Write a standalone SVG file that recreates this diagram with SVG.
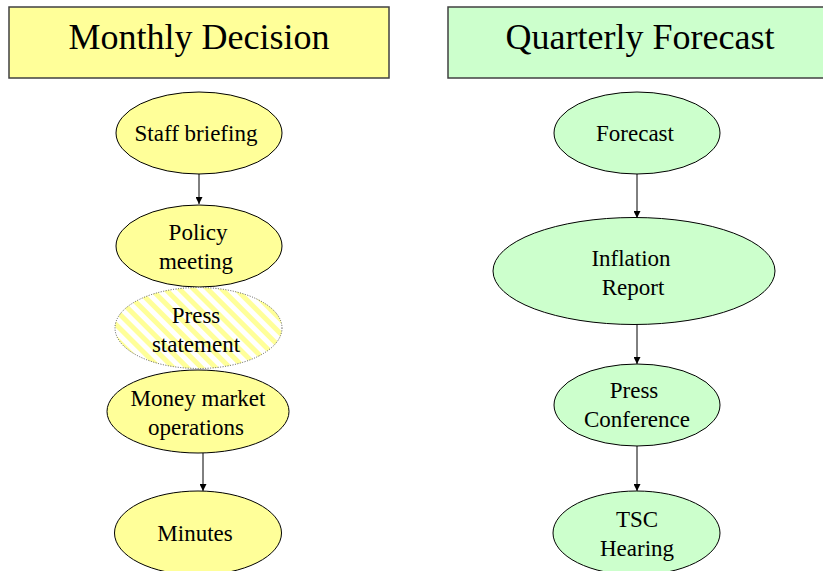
<svg xmlns="http://www.w3.org/2000/svg" width="823" height="571" viewBox="0 0 823 571">
  <defs>
    <style>
      .title { font-family: "Liberation Serif", "Times New Roman", serif; font-size: 36px; fill: #000; text-anchor: middle; }
      .lbl { font-family: "Liberation Serif", "Times New Roman", serif; font-size: 23px; fill: #000; text-anchor: middle; }
      .hdr { stroke: #404040; stroke-width: 1.5; }
      .y { fill: #FFFF99; stroke: #000; stroke-width: 1; }
      .g { fill: #CCFFCC; stroke: #000; stroke-width: 1; }
      .hatch { fill: url(#stripes); stroke: #555; stroke-width: 1; stroke-dasharray: 1 1.5; }
      .edge { stroke: #000; stroke-width: 1; fill: none; marker-end: url(#arrow); }
    </style>
    <!-- wide downward-diagonal stripes -->
    <pattern id="stripes" width="10" height="10" patternUnits="userSpaceOnUse" patternTransform="rotate(-45)">
      <rect width="10" height="10" fill="#FFFFFF"/>
      <rect width="5" height="10" fill="#FFFF99"/>
    </pattern>
    <marker id="arrow" viewBox="0 0 10 10" refX="10" refY="5" markerWidth="7" markerHeight="7" markerUnits="userSpaceOnUse" orient="auto">
      <path d="M0,0 L10,5 L0,10 z" fill="#000"/>
    </marker>
  </defs>

  <!-- column headers -->
  <g id="monthly-decision">
    <rect class="hdr" x="9" y="7" width="380" height="71" fill="#FFFF99"/>
    <text class="title" x="199" y="49">Monthly Decision</text>
  </g>
  <g id="quarterly-forecast">
    <rect class="hdr" x="448" y="7" width="384" height="71" fill="#CCFFCC"/>
    <text class="title" x="640" y="49">Quarterly Forecast</text>
  </g>

  <!-- connectors -->
  <g id="connectors">
    <line class="edge" x1="199" y1="174" x2="199" y2="204"/>
    <line class="edge" x1="203" y1="453" x2="203" y2="491"/>
    <line class="edge" x1="637" y1="174" x2="637" y2="218"/>
    <line class="edge" x1="637" y1="324" x2="637" y2="364"/>
    <line class="edge" x1="637" y1="446" x2="637" y2="491"/>
  </g>

  <!-- monthly column -->
  <g id="staff-briefing">
    <ellipse class="y" cx="199" cy="133" rx="83" ry="41"/>
    <text class="lbl" x="196" y="141">Staff briefing</text>
  </g>
  <g id="policy-meeting">
    <ellipse class="y" cx="199" cy="246" rx="83" ry="41"/>
    <text class="lbl" x="198" y="240">Policy</text>
    <text class="lbl" x="196" y="269">meeting</text>
  </g>
  <g id="press-statement">
    <ellipse class="hatch" cx="198.5" cy="328" rx="83.5" ry="40.5"/>
    <text class="lbl" x="196" y="323">Press</text>
    <text class="lbl" x="196" y="352">statement</text>
  </g>
  <g id="money-market-operations">
    <ellipse class="y" cx="198" cy="411.5" rx="91" ry="41.5"/>
    <text class="lbl" x="198" y="406">Money market</text>
    <text class="lbl" x="196" y="435">operations</text>
  </g>
  <g id="minutes">
    <ellipse class="y" cx="198" cy="533" rx="83.5" ry="42"/>
    <text class="lbl" x="195" y="541">Minutes</text>
  </g>

  <!-- quarterly column -->
  <g id="forecast">
    <ellipse class="g" cx="637" cy="133" rx="83" ry="41"/>
    <text class="lbl" x="635" y="141">Forecast</text>
  </g>
  <g id="inflation-report">
    <ellipse class="g" cx="634" cy="271" rx="141" ry="53.5"/>
    <text class="lbl" x="631" y="266">Inflation</text>
    <text class="lbl" x="633" y="295">Report</text>
  </g>
  <g id="press-conference">
    <ellipse class="g" cx="637" cy="405" rx="83" ry="41"/>
    <text class="lbl" x="634" y="398">Press</text>
    <text class="lbl" x="637" y="427">Conference</text>
  </g>
  <g id="tsc-hearing">
    <ellipse class="g" cx="636.5" cy="533" rx="83.5" ry="42"/>
    <text class="lbl" x="637" y="527">TSC</text>
    <text class="lbl" x="637" y="556">Hearing</text>
  </g>
</svg>
